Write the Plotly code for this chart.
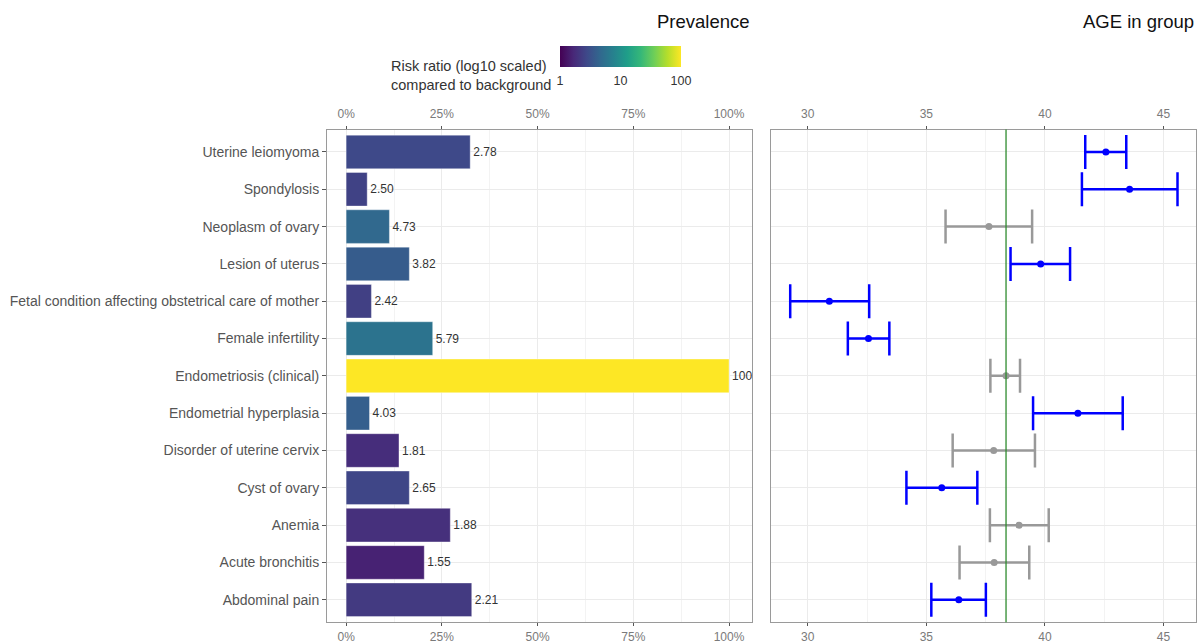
import numpy as np
import plotly.graph_objects as go

# ---------------- data ----------------
categories = [
    "Uterine leiomyoma", "Spondylosis", "Neoplasm of ovary", "Lesion of uterus",
    "Fetal condition affecting obstetrical care of mother", "Female infertility",
    "Endometriosis (clinical)", "Endometrial hyperplasia", "Disorder of uterine cervix",
    "Cyst of ovary", "Anemia", "Acute bronchitis", "Abdominal pain",
]
prevalence = [0.324, 0.055, 0.113, 0.165, 0.066, 0.226, 1.00, 0.061, 0.138, 0.165, 0.272, 0.204, 0.328]
risk_ratio = [2.78, 2.50, 4.73, 3.82, 2.42, 5.79, 100, 4.03, 1.81, 2.65, 1.88, 1.55, 2.21]
age_mean = [42.57, 43.57, 37.64, 39.82, 30.91, 32.56, 38.36, 41.39, 37.84, 35.65, 38.91, 37.86, 36.37]
age_low = [41.70, 41.56, 35.81, 38.55, 29.26, 31.69, 37.70, 39.50, 36.11, 34.16, 37.68, 36.40, 35.21]
age_high = [43.43, 45.59, 39.46, 41.06, 32.59, 33.44, 38.95, 43.28, 39.58, 37.15, 40.16, 39.34, 37.51]
significant = [True, True, False, True, True, True, False, True, False, True, False, False, True]
background_age = 38.36
pct_ticks = [0, 0.25, 0.5, 0.75, 1.0]
age_ticks = [30, 35, 40, 45]
cbar_tickvals = [0, 1, 2]
cbar_ticktext = ["1", "10", "100"]

# ---------------- figure ----------------
W, H = 1200, 644
def px(x): return x / W
def py(y): return 1 - y / H

FONT = "Liberation Sans, Arial, sans-serif"
cat_order = list(reversed(categories))
labels = ["100" if v >= 100 else f"{v:.2f}" for v in risk_ratio]

fig = go.Figure()

fig.add_trace(go.Bar(
    x=prevalence, y=categories, orientation="h", width=0.9,
    text=labels, textposition="outside", cliponaxis=False,
    textfont=dict(size=12, color="#333333", family=FONT),
    marker=dict(
        color=np.log10(risk_ratio), colorscale="Viridis", cmin=0, cmax=2,
        line=dict(width=0.6, color="rgba(255,255,255,0.6)"),
        colorbar=dict(
            orientation="h", x=px(620.5), xanchor="center", y=py(47), yanchor="top",
            len=121, lenmode="pixels", thickness=21, thicknessmode="pixels",
            xpad=0, ypad=0, outlinewidth=0,
            tickvals=cbar_tickvals, ticktext=cbar_ticktext,
            ticks="outside", tickcolor="white", ticklen=3,
            tickfont=dict(size=12.5, color="#333333", family=FONT),
        ),
    ),
    xaxis="x", yaxis="y", showlegend=False, hoverinfo="x+y",
))

for sig, color in [(True, "#0000FF"), (False, "#999999")]:
    idx = [i for i, s in enumerate(significant) if s == sig]
    fig.add_trace(go.Scatter(
        x=[age_mean[i] for i in idx], y=[categories[i] for i in idx],
        mode="markers",
        marker=dict(size=7, color=color),
        error_x=dict(
            type="data", symmetric=False,
            array=[age_high[i] - age_mean[i] for i in idx],
            arrayminus=[age_mean[i] - age_low[i] for i in idx],
            color=color, thickness=2.5, width=17,
        ),
        xaxis="x2", yaxis="y2", showlegend=False,
    ))

# invisible traces to anchor the top duplicate axes
fig.add_trace(go.Scatter(x=[0], y=[categories[0]], xaxis="x3", yaxis="y", mode="markers",
                         marker=dict(opacity=0), showlegend=False, hoverinfo="skip"))
fig.add_trace(go.Scatter(x=[35], y=[categories[0]], xaxis="x4", yaxis="y2", mode="markers",
                         marker=dict(opacity=0), showlegend=False, hoverinfo="skip"))

ydom = [py(629), py(131)]
grid = "#ebebeb"
TICKFONT = dict(size=12, color="#7a7a7a", family=FONT)
axis_common = dict(
    showline=True, linecolor="#9a9a9a", linewidth=1, mirror=True,
    ticks="outside", ticklen=3, tickcolor="#555555",
    tickfont=TICKFONT,
    showgrid=True, gridcolor=grid, gridwidth=1, zeroline=False,
)
top_common = dict(showline=False, ticks="outside", ticklen=3, tickcolor="#555555",
                  tickfont=TICKFONT, showgrid=False, zeroline=False, ticklabelstandoff=3)

left_range = [-0.05, 1.06]
right_range = [28.45, 46.37]

fig.update_layout(
    width=W, height=H,
    margin=dict(l=0, r=0, t=0, b=0),
    paper_bgcolor="white", plot_bgcolor="white",
    font=dict(family=FONT),
    xaxis=dict(domain=[px(327), px(752)], range=left_range, anchor="y",
               tickvals=pct_ticks, tickformat=".0%",
               minor=dict(dtick=0.125, tick0=0, showgrid=True, gridcolor="#f3f3f3", gridwidth=1, ticks=""),
               **axis_common),
    xaxis3=dict(overlaying="x", side="top", range=left_range, anchor="y",
                tickvals=pct_ticks, tickformat=".0%", **top_common),
    xaxis2=dict(domain=[px(771), px(1196)], range=right_range, anchor="y2",
                tickvals=age_ticks,
                minor=dict(dtick=2.5, tick0=0, showgrid=True, gridcolor="#f3f3f3", gridwidth=1, ticks=""),
                **axis_common),
    xaxis4=dict(overlaying="x2", side="top", range=right_range, anchor="y2",
                tickvals=age_ticks, **top_common),
    yaxis=dict(domain=ydom, anchor="x", type="category",
               categoryorder="array", categoryarray=cat_order, range=[-0.6, 12.6],
               showline=True, linecolor="#9a9a9a", mirror=True,
               ticks="outside", ticklen=4, tickcolor="#555555",
               tickfont=dict(size=14, color="#555555", family=FONT),
               showgrid=True, gridcolor=grid, zeroline=False),
    yaxis2=dict(domain=ydom, anchor="x2", type="category",
                categoryorder="array", categoryarray=cat_order, range=[-0.6, 12.6],
                showline=True, linecolor="#9a9a9a", mirror=True,
                showticklabels=False, ticks="",
                showgrid=True, gridcolor=grid, zeroline=False),
    annotations=[
        dict(text="Prevalence", xref="paper", yref="paper", x=px(752), y=py(22),
             xanchor="right", yanchor="middle", showarrow=False,
             font=dict(size=18.5, color="#111111", family=FONT)),
        dict(text="AGE in group", xref="paper", yref="paper", x=px(1196), y=py(22),
             xanchor="right", yanchor="middle", showarrow=False,
             font=dict(size=18.5, color="#111111", family=FONT)),
        dict(text="Risk ratio (log10 scaled)<br>compared to background", xref="paper", yref="paper",
             x=px(553), y=py(76), xanchor="right", yanchor="middle", align="left", showarrow=False,
             font=dict(size=14.5, color="#333333", family=FONT)),
    ],
    shapes=[
        dict(type="line", xref="x2", yref="y2 domain", x0=background_age, x1=background_age,
             y0=0, y1=1, line=dict(color="#2e8b2e", width=1.3), layer="above"),
    ],
    bargap=0.1,
)

fig.write_html("out.html", config={"displayModeBar": False},
               post_script="document.body.style.margin='0';document.body.style.overflow='hidden';")
